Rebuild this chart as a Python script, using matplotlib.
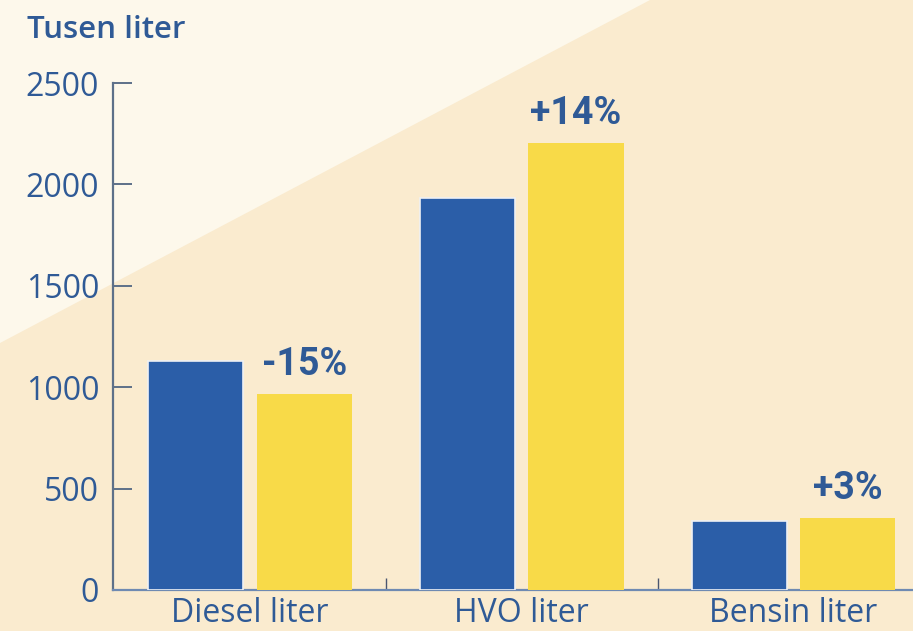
import numpy as np
import matplotlib.pyplot as plt
from matplotlib.patches import Polygon

categories = ["Diesel liter", "HVO liter", "Bensin liter"]
before = [1130, 1935, 340]
after = [965, 2205, 355]
changes = ["-15%", "+14%", "+3%"]
yticks = [0, 500, 1000, 1500, 2000, 2500]

blue = "#2b5ea8"
yellow = "#f8da48"
text_blue = "#2f5a96"
tan = "#faebcf"
light = "#fdf8eb"

fig = plt.figure(figsize=(9.13, 6.31), dpi=100, facecolor=tan)

# lighter diagonal wedge in the upper left corner
fig.patches.append(Polygon([(0, 1 - 343 / 631), (0, 1), (650 / 913, 1)],
                           closed=True, transform=fig.transFigure,
                           facecolor=light, edgecolor="none", zorder=0))

ax = fig.add_axes([113 / 913, 1 - 590 / 631, 1 - 113 / 913, (590 - 83) / 631])
ax.set_facecolor("none")
ax.set_zorder(2)

x = np.arange(len(categories))
w = 0.35
ax.bar(x - 0.2, before, w, color=blue, edgecolor="#eef0f4", linewidth=1.2, zorder=3)
ax.bar(x + 0.2, after, w, color=yellow, edgecolor="none", zorder=3)

for xi, v, lab in zip(x, after, changes):
    ax.text(xi + 0.2, v + 55, lab, ha="center", va="bottom", fontsize=27,
            fontweight="bold", color=text_blue,
            family=["Liberation Sans Narrow", "DejaVu Sans Condensed", "Roboto"],
            fontstretch="condensed")

ax.set_ylim(0, 2500)
ax.set_xlim(-0.504, 2.44)

ax.spines["top"].set_visible(False)
ax.spines["right"].set_visible(False)
ax.spines["left"].set_color("#5d7089")
ax.spines["left"].set_linewidth(1.6)
ax.spines["bottom"].set_color("#6f8ab2")
ax.spines["bottom"].set_linewidth(1.6)

ax.set_yticks(yticks)
ax.set_yticklabels([str(t) for t in yticks], family="Open Sans", fontsize=23, color=text_blue)
ax.tick_params(axis="y", direction="in", length=14, width=1.4, color="#5d7089", pad=10)

ax.set_xticks(x)
ax.set_xticklabels(categories, family="Open Sans", fontsize=23, color=text_blue)
ax.tick_params(axis="x", length=0, pad=5)
ax.set_xticks([0.5, 1.5], minor=True)
ax.tick_params(axis="x", which="minor", direction="in", length=9, width=1, color="#4a5670")

fig.text(27 / 913, 1 - 30 / 631, "Tusen liter", family="Open Sans", fontweight="semibold",
         fontsize=22.5, color=text_blue, ha="left", va="center")

fig.savefig("out.png", dpi=100, facecolor=tan)
